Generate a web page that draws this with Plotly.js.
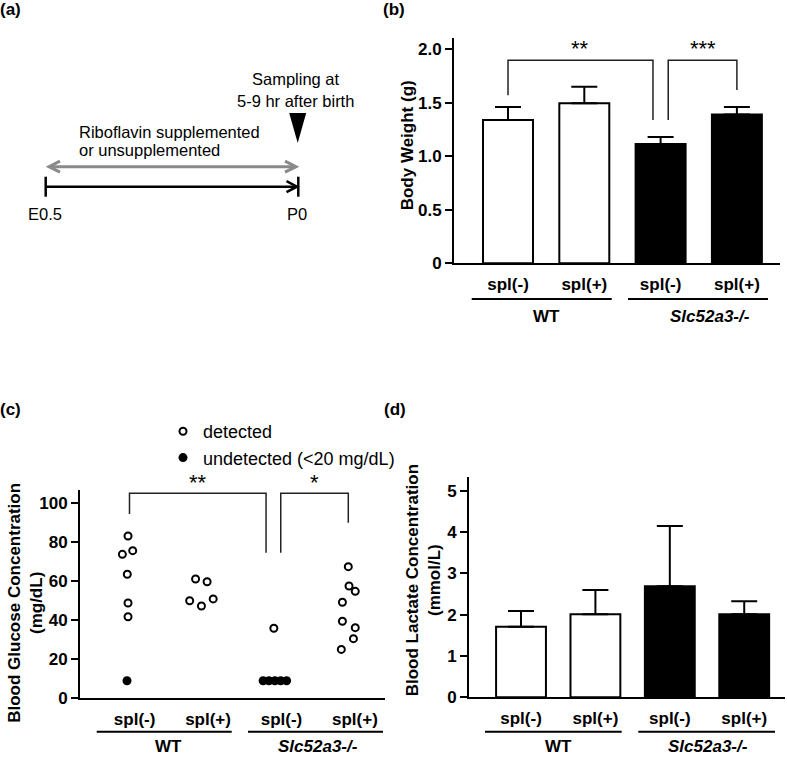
<!DOCTYPE html>
<html><head><meta charset="utf-8">
<script src="https://cdn.plot.ly/plotly-3.0.1.min.js"></script>
<style>html,body{margin:0;padding:0;background:#fff;} #chart{width:787px;height:758px;}</style>
</head><body><div id="chart"></div>
<script>
// ---------- data ----------
const splLabels = ['spl(-)', 'spl(+)', 'spl(-)', 'spl(+)'];
const groupLabels = ['WT', 'Slc52a3-/-'];
const barFill = ['white', 'white', 'black', 'black'];

const bodyWeightMean = [1.34, 1.495, 1.115, 1.39];
const bodyWeightErr  = [0.12, 0.155, 0.065, 0.07];

const lactateMean = [1.71, 2.01, 2.69, 2.01];
const lactateErr  = [0.38, 0.59, 1.46, 0.32];

const glucoseDetectedGroup  = [0,0,0,0,0,0, 1,1,1,1,1, 2, 3,3,3,3,3,3,3,3];
const glucoseDetected       = [83.0,73.6,75.5,63.4,48.7,41.7, 61.0,59.6,49.9,47.2,50.8, 35.8, 67.3,57.4,54.7,49.1,39.4,36.1,30.5,25.0];
const glucoseDetectedJitter = [0,-0.077,0.064,-0.01,0,0, -0.08,0.077,-0.16,0,0.16, -0.014, 0,0.01,0.095,-0.08,-0.08,0.095,0.07,-0.095];

const glucoseUndetectedGroup  = [0, 2,2,2,2,2];
const glucoseUndetected       = [9, 9,9,9,9,9];
const glucoseUndetectedJitter = [-0.014, -0.16,-0.08,0,0.08,0.16];

// ---------- helpers ----------
const W = 787, H = 758;
const X = p => p / W;
const Y = p => 1 - p / H;
const FAM = 'Liberation Sans, Arial, Helvetica, sans-serif';
const boldFont = {family: FAM, size: 17, color: '#000', weight: 'bold'};
const regFont = {family: FAM, size: 16.5, color: '#000'};
const idx = [0, 1, 2, 3];

function yax(anchor, domain, range, tickvals, ticktext) {
  return {anchor, domain, range, tickvals, ticktext, showline: true, linewidth: 2, linecolor: '#000',
    ticks: 'outside', ticklen: 7, tickwidth: 2, tickcolor: '#000', showgrid: false, zeroline: false,
    tickfont: boldFont, fixedrange: true};
}
function xax(anchor, domain, range, tickvals) {
  return {anchor, domain, range, tickvals, ticktext: splLabels, showline: true, linewidth: 2, linecolor: '#000',
    ticks: '', showgrid: false, zeroline: false, tickfont: boldFont, ticklabelstandoff: 4, fixedrange: true};
}

const traces = [
  {type: 'bar', x: idx, y: bodyWeightMean, width: 0.655, xaxis: 'x', yaxis: 'y', showlegend: false,
   marker: {color: barFill, line: {color: '#000', width: 2}},
   error_y: {type: 'data', symmetric: false, array: bodyWeightErr, arrayminus: bodyWeightErr.map(() => 0),
             color: '#000', thickness: 2, width: 13}},
  {type: 'scatter', mode: 'markers', name: 'detected', xaxis: 'x2', yaxis: 'y2',
   x: glucoseDetectedGroup.map((g, i) => g + glucoseDetectedJitter[i]), y: glucoseDetected,
   marker: {symbol: 'circle-open', size: 7, color: '#000', line: {width: 2, color: '#000'}}},
  {type: 'scatter', mode: 'markers', name: 'undetected (<20 mg/dL)', xaxis: 'x2', yaxis: 'y2',
   x: glucoseUndetectedGroup.map((g, i) => g + glucoseUndetectedJitter[i]), y: glucoseUndetected,
   marker: {symbol: 'circle', size: 9, color: '#000'}},
  {type: 'bar', x: idx, y: lactateMean, width: 0.67, xaxis: 'x3', yaxis: 'y3', showlegend: false,
   marker: {color: barFill, line: {color: '#000', width: 2}},
   error_y: {type: 'data', symmetric: false, array: lactateErr, arrayminus: lactateErr.map(() => 0),
             color: '#000', thickness: 2, width: 13}}
];

function line(x0, y0, x1, y1, color, width) {
  return {type: 'line', xref: 'paper', yref: 'paper', x0: X(x0), y0: Y(y0), x1: X(x1), y1: Y(y1),
          line: {color: color || '#000', width: width || 2}};
}
function ppath(pts, closed, fill, color, width) {
  const d = pts.map((p, i) => (i ? 'L' : 'M') + X(p[0]) + ',' + Y(p[1])).join(' ') + (closed ? ' Z' : '');
  return {type: 'path', xref: 'paper', yref: 'paper', path: d, fillcolor: fill || 'rgba(0,0,0,0)',
          line: {color: color || '#000', width: width === undefined ? 2 : width}};
}

const gray = '#8a8a8a';
const shapes = [
  // (a) timeline
  line(45.7, 186.7, 298.3, 186.7, '#000', 2.5),
  line(45.7, 176.7, 45.7, 196.7, '#000', 2.5),
  line(298.3, 176.7, 298.3, 196.7, '#000', 2.5),
  ppath([[286.5, 181.2], [297, 186.7], [286.5, 192.2]], false, null, '#000', 2.5),
  line(49, 166.7, 296, 166.7, gray, 3),
  ppath([[60, 161.2], [49, 166.7], [60, 172.2]], false, null, gray, 3),
  ppath([[285, 161.2], [296, 166.7], [285, 172.2]], false, null, gray, 3),
  ppath([[289.2, 113], [306.2, 113], [297.7, 143]], true, '#000', '#000', 0),
  // (b) significance brackets
  {type: 'path', xref: 'x', yref: 'y', path: 'M0,1.57 L0,1.897 L1.9,1.897 L1.9,1.34', line: {color: '#222', width: 1.5}},
  {type: 'path', xref: 'x', yref: 'y', path: 'M2.1,1.34 L2.1,1.897 L3,1.897 L3,1.62', line: {color: '#222', width: 1.5}},
  // (c) significance brackets
  {type: 'path', xref: 'x2', yref: 'y2', path: 'M0.02,94.2 L0.02,104.8 L1.88,104.8 L1.88,74.4', line: {color: '#222', width: 1.5}},
  {type: 'path', xref: 'x2', yref: 'y2', path: 'M2.08,74.4 L2.08,104.8 L3,104.8 L3,89.8', line: {color: '#222', width: 1.5}},
  // group underlines
  line(471.7, 299, 611.7, 299), line(628, 299, 768, 299),
  line(96.7, 731.7, 231.7, 731.7), line(248, 731.7, 383, 731.7),
  line(485, 731.7, 621.7, 731.7), line(638.3, 731.7, 775, 731.7)
];

function ann(text, x, y, font, extra) {
  return Object.assign({text, x: X(x), y: Y(y), xref: 'paper', yref: 'paper', showarrow: false,
    xanchor: 'center', yanchor: 'middle', font}, extra || {});
}
const panelFont = {family: FAM, size: 17, color: '#000', weight: 'bold'};
const starFont = {family: FAM, size: 22, color: '#000'};
const annotations = [
  ann('(a)', 10, 9, panelFont),
  ann('(b)', 394, 9, panelFont),
  ann('(c)', 10, 409, panelFont),
  ann('(d)', 395, 409, panelFont),
  // (a) texts
  ann('Sampling at', 296, 79.3, regFont),
  ann('5-9 hr after birth', 295, 100.7, regFont),
  ann('Riboflavin supplemented', 77.3, 131.7, regFont, {xanchor: 'left'}),
  ann('or unsupplemented', 77.3, 150, regFont, {xanchor: 'left'}),
  ann('E0.5', 45, 214, regFont),
  ann('P0', 296.7, 214, regFont),
  // y titles
  ann('Body Weight (g)', 408.3, 145, boldFont, {textangle: -90}),
  ann('Blood Glucose Concentration<br>(mg/dL)', 24.8, 603, boldFont, {textangle: -90}),
  ann('Blood Lactate Concentration<br>(mmol/L)', 423.3, 580, boldFont, {textangle: -90}),
  // stars
  ann('**', 580, 49, starFont), ann('***', 702.7, 49, starFont),
  ann('**', 198, 482, starFont), ann('*', 314, 482, starFont),
  // group labels
  ann(groupLabels[0], 546.2, 316.7, boldFont), ann('<i>' + groupLabels[1] + '</i>', 710, 316.7, boldFont),
  ann(groupLabels[0], 168.3, 746.5, boldFont), ann('<i>' + groupLabels[1] + '</i>', 318.3, 746.5, boldFont),
  ann(groupLabels[0], 558.3, 746.5, boldFont), ann('<i>' + groupLabels[1] + '</i>', 708.3, 746.5, boldFont)
];

const layout = {
  width: W, height: H, margin: {l: 0, r: 0, t: 0, b: 0}, paper_bgcolor: '#fff', plot_bgcolor: 'rgba(0,0,0,0)',
  showlegend: true,
  legend: {x: X(163), y: Y(413), xanchor: 'left', yanchor: 'top', bgcolor: 'rgba(0,0,0,0)',
           font: {family: FAM, size: 18, color: '#000'}, tracegroupgap: 0},
  xaxis: xax('y', [X(454), X(780)], [-0.708, 3.565], idx),
  yaxis: yax('x', [Y(263.3), Y(38)], [0, 2.106], [0, 0.5, 1, 1.5, 2], ['0', '0.5', '1.0', '1.5', '2.0']),
  xaxis2: xax('y2', [X(80), X(385)], [-0.654, 3.5], idx.map(v => v + 0.09)),
  yaxis2: yax('x2', [Y(698.3), Y(490)], [0, 106.5], [0, 20, 40, 60, 80, 100], ['0', '20', '40', '60', '80', '100']),
  xaxis3: xax('y3', [X(469), X(785)], [-0.699, 3.548], idx),
  yaxis3: yax('x3', [Y(697.3), Y(477.3)], [0, 5.33], [0, 1, 2, 3, 4, 5], ['0', '1', '2', '3', '4', '5']),
  shapes, annotations
};

Plotly.newPlot('chart', traces, layout, {displayModeBar: false, staticPlot: true});
</script>
</body></html>
